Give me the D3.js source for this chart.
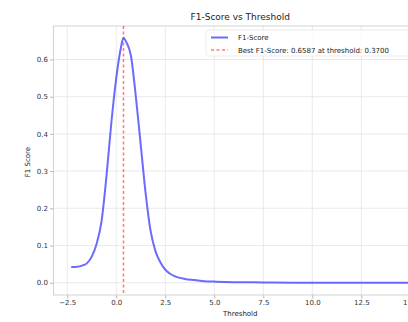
<!DOCTYPE html>
<html><head><meta charset="utf-8">
<script src="https://cdn.jsdelivr.net/npm/d3@7"></script>
<style>body{margin:0;background:#fff;overflow:hidden}text{font-family:"DejaVu Sans",sans-serif}</style>
</head><body><svg id="c" width="408" height="322"></svg>
<script>
const thresholds = [-2.3,-2.0,-1.75,-1.5,-1.25,-1.0,-0.75,-0.5,-0.25,0.0,0.25,0.37,0.5,0.75,1.0,1.25,1.5,1.75,2.0,2.25,2.5,2.75,3.0,3.5,4.0,4.5,5.0,6.0,7.0,8.0,9.0,10.0,11.0,12.0,13.0,14.0,15.0];
const f1Scores = [0.042,0.043,0.046,0.052,0.07,0.105,0.165,0.285,0.43,0.55,0.635,0.6587,0.648,0.61,0.5,0.37,0.24,0.14,0.085,0.055,0.035,0.024,0.017,0.01,0.007,0.004,0.003,0.0015,0.001,0.0005,0,0,0,0,0,0,0];
const bestThreshold = 0.37;
const bestF1 = 0.6587;
const xTicks = [-2.5,0.0,2.5,5.0,7.5,10.0,12.5,15.0];
const yTicks = [0.0,0.1,0.2,0.3,0.4,0.5,0.6];
const titleText = "F1-Score vs Threshold";
const xLabel = "Threshold", yLabel = "F1 Score";
const seriesLabel = "F1-Score";
const bestLabel = "Best F1-Score: " + bestF1.toFixed(4) + " at threshold: " + bestThreshold.toFixed(4);

const svg = d3.select("#c");
const L=53.5, R=427, T=26, B=295;
const x = d3.scaleLinear().domain([-3.2,15.85]).range([L,R]);
const y = d3.scaleLinear().domain([-0.033,0.69]).range([B,T]);

// grid
const g = svg.append("g");
g.selectAll(".gx").data(xTicks).join("line").attr("x1",d=>x(d)).attr("x2",d=>x(d)).attr("y1",T).attr("y2",B)
 .attr("stroke","#e4e4e4").attr("stroke-width",0.8);
g.selectAll(".gy").data(yTicks).join("line").attr("x1",L).attr("x2",R).attr("y1",d=>y(d)).attr("y2",d=>y(d))
 .attr("stroke","#e4e4e4").attr("stroke-width",0.8);

// axes
const ax = svg.append("g").attr("transform",`translate(0,${B})`).call(d3.axisBottom(x).tickValues(xTicks).tickFormat(d3.format(".1f")).tickSize(3.5).tickPadding(2));
const ay = svg.append("g").attr("transform",`translate(${L},0)`).call(d3.axisLeft(y).tickValues(yTicks).tickFormat(d3.format(".1f")).tickSize(3.5).tickPadding(2));
[ax,ay].forEach(a=>{a.select(".domain").remove();a.selectAll("line").attr("stroke","#999").attr("stroke-width",0.7);
 a.selectAll("text").attr("font-size",7).attr("fill","#333").attr("font-family","DejaVu Sans");});
svg.append("rect").attr("x",L).attr("y",T).attr("width",R-L).attr("height",B-T).attr("fill","none").attr("stroke","#c8c8c8").attr("stroke-width",0.8);

// line
const clip = svg.append("clipPath").attr("id","pc").append("rect").attr("x",L).attr("y",T-2).attr("width",R-L).attr("height",B-T+2);
const line = d3.line().x((d,i)=>x(thresholds[i])).y(d=>y(d)).curve(d3.curveMonotoneX);
svg.append("path").datum(f1Scores).attr("d",line).attr("fill","none").attr("stroke","#3a3aff").attr("stroke-opacity",0.75).attr("stroke-width",2);
svg.append("line").attr("x1",x(bestThreshold)).attr("x2",x(bestThreshold)).attr("y1",T).attr("y2",B)
 .attr("stroke","#ff2020").attr("stroke-opacity",0.6).attr("stroke-width",1.5).attr("stroke-dasharray","3,2.5");

// title & labels
svg.append("text").attr("x",(L+R)/2).attr("y",20).attr("text-anchor","middle").attr("font-size",9).attr("fill","#222").text(titleText);
svg.append("text").attr("x",(L+R)/2).attr("y",316).attr("text-anchor","middle").attr("font-size",7).attr("fill","#222").text(xLabel);
svg.append("text").attr("transform","translate(30,162) rotate(-90)").attr("text-anchor","middle").attr("font-size",7).attr("fill","#222").text(yLabel);

// legend
const lg = svg.append("g");
lg.append("rect").attr("x",206).attr("y",30).attr("width",R-6-206).attr("height",26).attr("fill","#fff").attr("fill-opacity",0.8).attr("stroke","#ddd").attr("stroke-width",0.6).attr("rx",2);
lg.append("line").attr("x1",211).attr("x2",228).attr("y1",37.5).attr("y2",37.5).attr("stroke","#3a3aff").attr("stroke-opacity",0.75).attr("stroke-width",2);
lg.append("line").attr("x1",211).attr("x2",228).attr("y1",50).attr("y2",50).attr("stroke","#ff2020").attr("stroke-opacity",0.6).attr("stroke-width",1.5).attr("stroke-dasharray","3,2.5");
lg.append("text").attr("x",238).attr("y",40).attr("font-size",7).attr("fill","#222").text(seriesLabel);
lg.append("text").attr("x",238).attr("y",52.5).attr("font-size",7).attr("fill","#222").text(bestLabel);
</script></body></html>
